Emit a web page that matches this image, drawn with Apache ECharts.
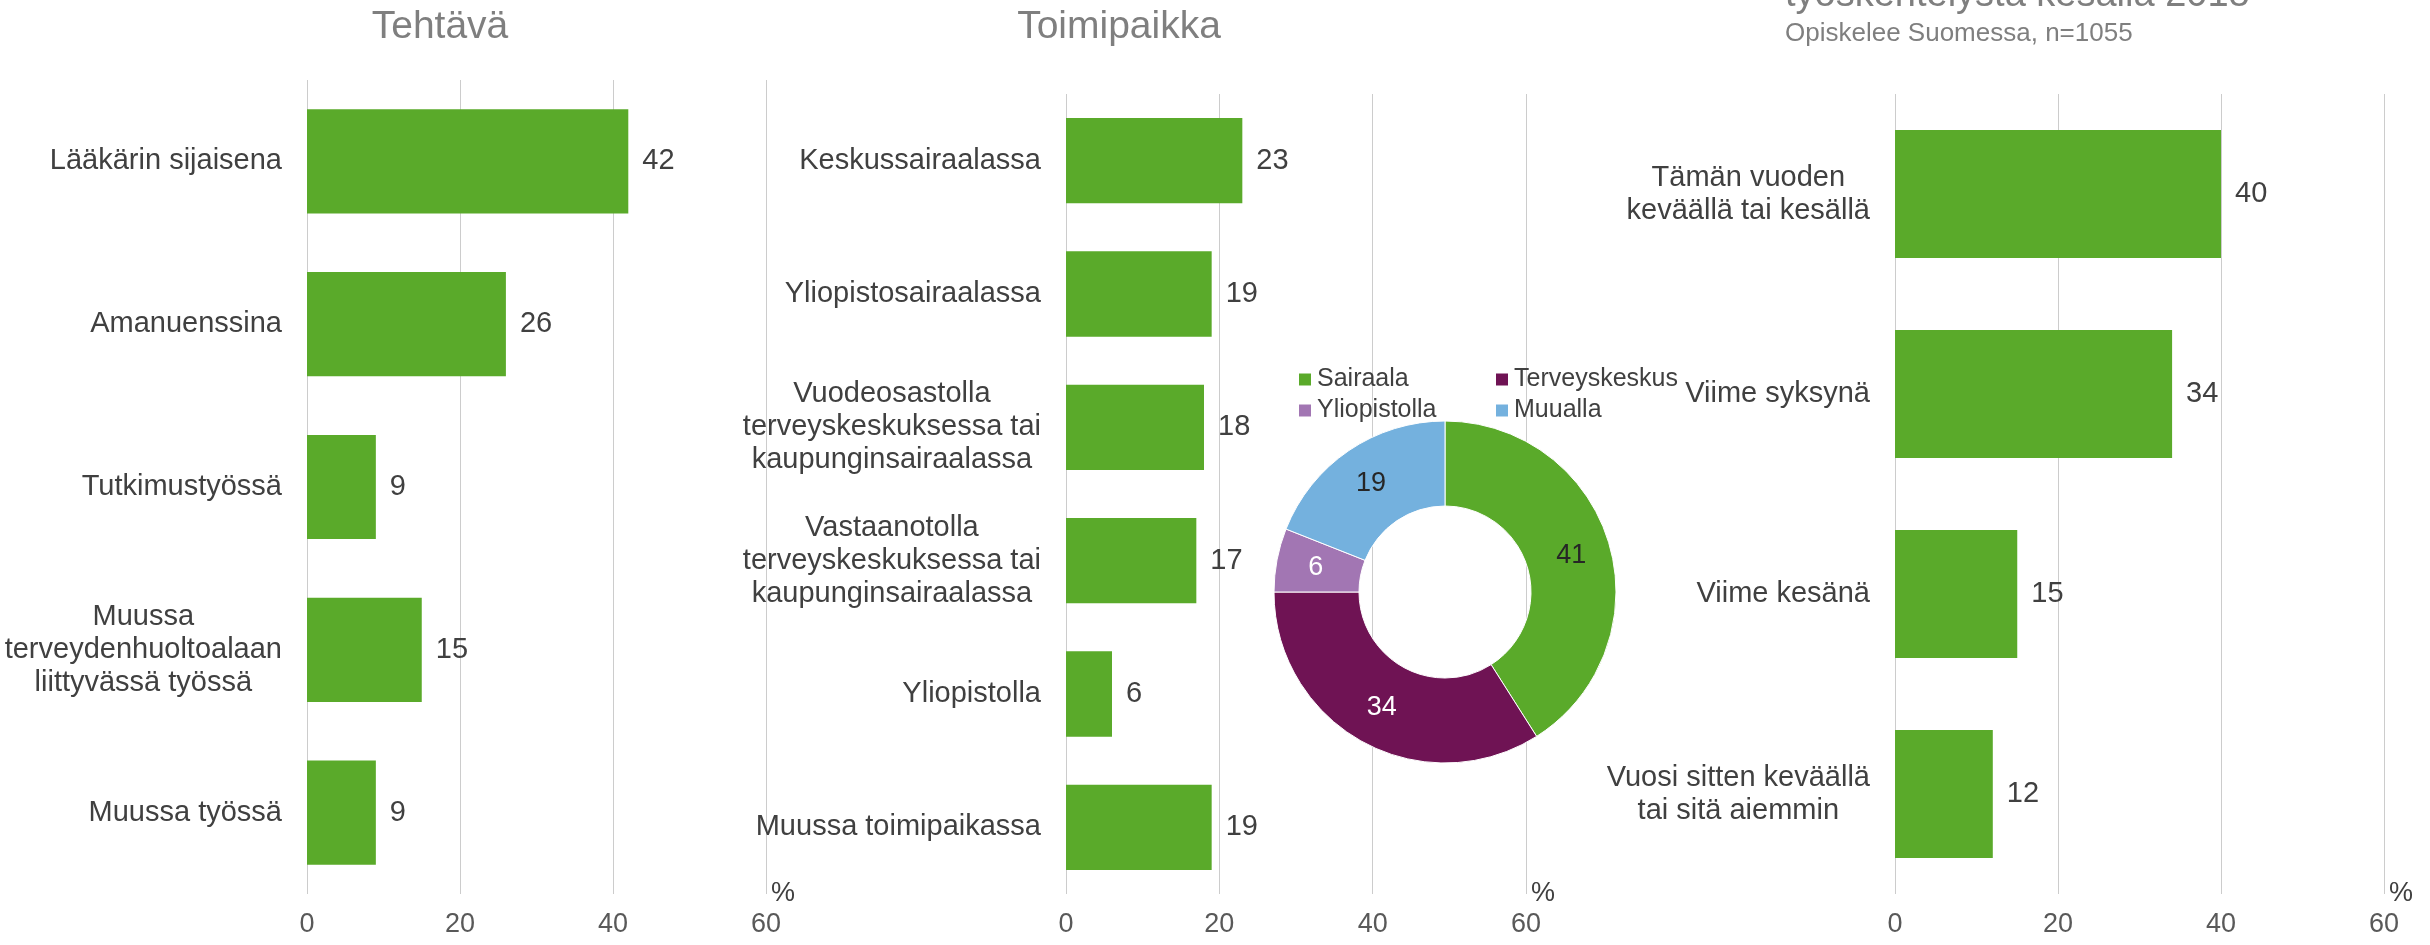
<!DOCTYPE html>
<html>
<head>
<meta charset="utf-8">
<script src="https://cdn.jsdelivr.net/npm/echarts@6/dist/echarts.min.js"></script>
<style>
  html, body { margin: 0; padding: 0; background: #fff; }
  #chart { width: 2430px; height: 945px; }
</style>
</head>
<body>
<div id="chart"></div>
<script>
var tehtavaCategories = ['Lääkärin sijaisena', 'Amanuenssina', 'Tutkimustyössä', 'Muussa\nterveydenhuoltoalaan\nliittyvässä työssä', 'Muussa työssä'];
var tehtavaValues = [42, 26, 9, 15, 9];

var toimipaikkaCategories = ['Keskussairaalassa', 'Yliopistosairaalassa', 'Vuodeosastolla\nterveyskeskuksessa tai\nkaupunginsairaalassa', 'Vastaanotolla\nterveyskeskuksessa tai\nkaupunginsairaalassa', 'Yliopistolla', 'Muussa toimipaikassa'];
var toimipaikkaValues = [23, 19, 18, 17, 6, 19];

var ajankohtaCategories = ['Tämän vuoden\nkeväällä tai kesällä', 'Viime syksynä', 'Viime kesänä', 'Vuosi sitten keväällä\ntai sitä aiemmin'];
var ajankohtaValues = [40, 34, 15, 12];

var sektoriNames = ['Sairaala', 'Terveyskeskus', 'Yliopistolla', 'Muualla'];
var sektoriValues = [41, 34, 6, 19];

var axisMin = 0, axisMax = 60, axisStep = 20;

var font = "'Liberation Sans', Arial, sans-serif";
var green = '#5aaa2a';
var textDark = '#404040';
var grey = '#7f7f7f';

// multi-line labels: block right aligned, lines centered (like Excel)
function centerLines(text) {
  return text.split('\n').map(function(s){ return '{c|' + s + '}'; }).join('\n');
}

var grids = [
  { left: 307, top: 80, width: 459, height: 814 },
  { left: 1066, top: 94, width: 460, height: 800 },
  { left: 1895, top: 94, width: 489, height: 800 }
];
var barSets = [
  { cats: tehtavaCategories, vals: tehtavaValues },
  { cats: toimipaikkaCategories, vals: toimipaikkaValues },
  { cats: ajankohtaCategories, vals: ajankohtaValues }
];

var xAxes = [], yAxes = [], series = [];
barSets.forEach(function(set, i){
  xAxes.push({
    gridIndex: i, type: 'value', min: axisMin, max: axisMax, interval: axisStep,
    name: '%', nameLocation: 'end', nameGap: 5,
    nameTextStyle: { fontSize: 27, color: textDark, fontFamily: font },
    axisLine: { show: false }, axisTick: { show: false },
    axisLabel: { margin: 17, fontSize: 27, color: '#595959', fontFamily: font },
    splitLine: { show: true, lineStyle: { color: '#cccccc', width: 1 } }
  });
  yAxes.push({
    gridIndex: i, type: 'category', data: set.cats, inverse: true,
    axisLine: { show: false }, axisTick: { show: false },
    axisLabel: {
      margin: 25, align: 'right', formatter: centerLines,
      rich: { c: { align: 'center', fontSize: 29, lineHeight: 33, color: textDark, fontFamily: font } }
    }
  });
  series.push({
    type: 'bar', xAxisIndex: i, yAxisIndex: i, data: set.vals,
    barCategoryGap: '36%',
    itemStyle: { color: green },
    label: { show: true, position: 'right', distance: 14, fontSize: 29, color: textDark, fontFamily: font }
  });
});

var pieColors = ['#5aaa2a', '#6f1354', '#a276b3', '#74b1de'];
var pieLabelColors = ['#262626', '#ffffff', '#ffffff', '#262626'];
series.push({
  type: 'pie', center: [1445, 592], radius: [86, 171], startAngle: 90, clockwise: true,
  silent: true,
  data: sektoriNames.map(function(n, k){
    return {
      name: n, value: sektoriValues[k],
      itemStyle: { color: pieColors[k], borderColor: '#fff', borderWidth: 1 },
      label: { color: pieLabelColors[k] }
    };
  }),
  label: { show: true, position: 'inside', formatter: '{c}', fontSize: 27, fontFamily: font },
  labelLine: { show: false }
});

// legend in two columns, like the original
function legendColumn(names, left) {
  return {
    data: names, orient: 'vertical', left: left, top: 367, padding: 0,
    itemWidth: 14, itemHeight: 14, itemGap: 6, icon: 'rect',
    selectedMode: false,
    textStyle: { fontSize: 25, color: textDark, fontFamily: font }
  };
}

var chart = echarts.init(document.getElementById('chart'));
chart.setOption({
  animation: false,
  backgroundColor: '#ffffff',
  title: [
    { text: 'Tehtävä', left: 440, top: 8, textAlign: 'center', padding: 0,
      textStyle: { fontSize: 39, fontWeight: 'normal', color: grey, fontFamily: font } },
    { text: 'Toimipaikka', left: 1119, top: 8, textAlign: 'center', padding: 0,
      textStyle: { fontSize: 39, fontWeight: 'normal', color: grey, fontFamily: font } },
    { text: 'työskentelystä kesällä 2018', left: 1785, top: -23, padding: 0,
      textStyle: { fontSize: 38, fontWeight: 'normal', color: grey, fontFamily: font } },
    { text: 'Opiskelee Suomessa, n=1055', left: 1785, top: 21, padding: 0,
      textStyle: { fontSize: 26, fontWeight: 'normal', color: grey, fontFamily: font } }
  ],
  legend: [
    legendColumn([sektoriNames[0], sektoriNames[2]], 1297),
    legendColumn([sektoriNames[1], sektoriNames[3]], 1494)
  ],
  grid: grids,
  xAxis: xAxes,
  yAxis: yAxes,
  series: series
});
</script>
</body>
</html>
